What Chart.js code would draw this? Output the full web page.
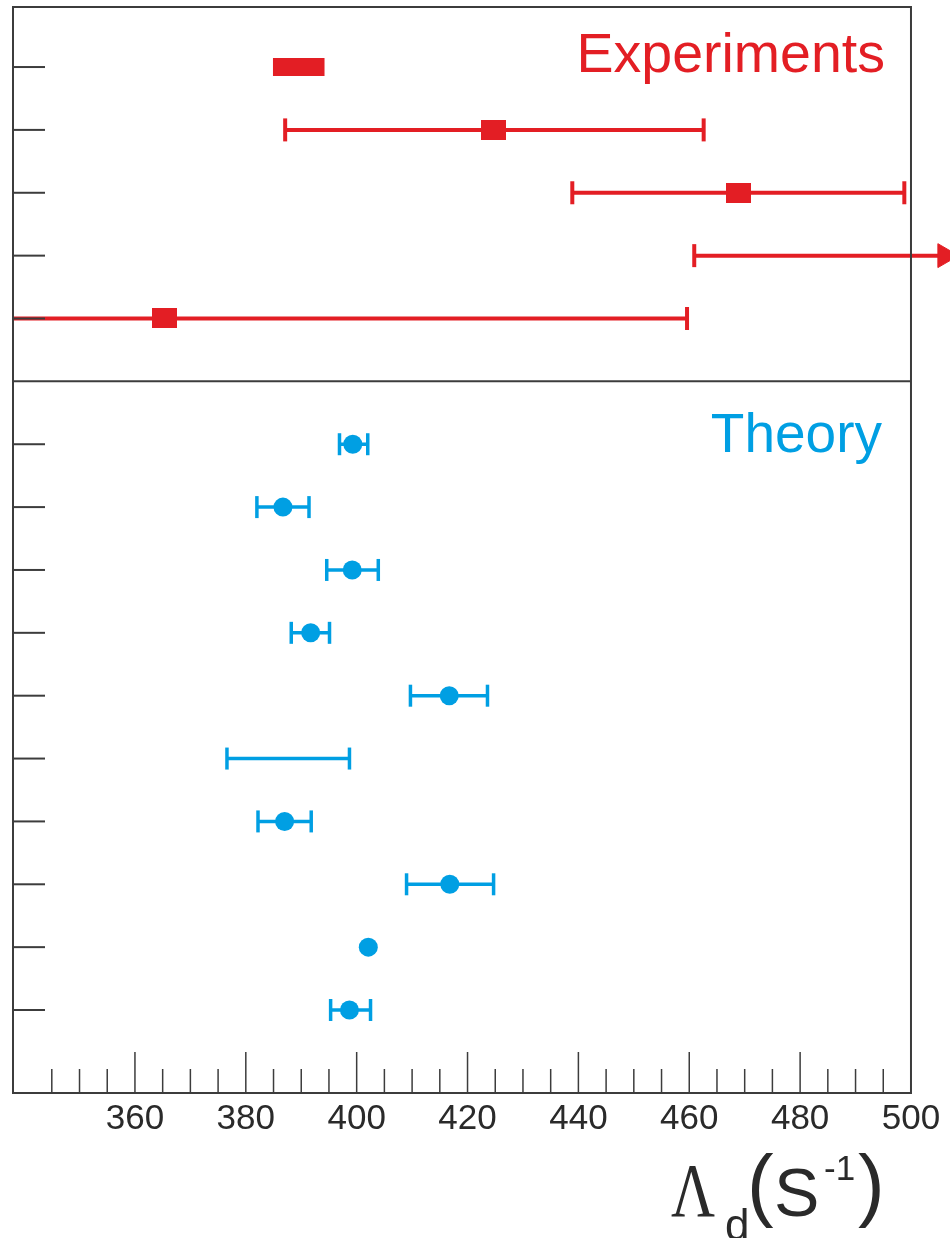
<!DOCTYPE html>
<html>
<head>
<meta charset="utf-8">
<script src="https://cdn.jsdelivr.net/npm/chart.js@4.4.1/dist/chart.umd.min.js"></script>
<style>
html, body { margin: 0; padding: 0; background: #fff; }
#wrap { width: 950px; height: 1238px; position: relative; }
</style>
</head>
<body>
<div id="wrap"><canvas id="chart" width="950" height="1238"></canvas></div>
<script>
// x axis (decay rate, s^-1); the scale runs a little past the frame so the arrow fits
const xMin = 338;
const xFrameMax = 500;
const xScaleMax = 507.04;
const xTicks = [360, 380, 400, 420, 440, 460, 480, 500];

// Experiments, rows from top
const expValue = [null, 424.7, 468.8, null, 365.3];
const expLow   = [384.9, 387.1, 438.9, 460.9, 271.0];
const expHigh  = [394.2, 462.6, 498.8, 506.1, 459.6];
const expKind  = ['band', 'bar', 'bar', 'limit', 'bar'];

// Theory, rows from top
const thValue = [399.3, 386.7, 399.2, 391.7, 416.7, null, 387.0, 416.8, 402.1, 398.7];
const thLow   = [396.9, 382.0, 394.6, 388.2, 409.7, 376.6, 382.2, 409.0, null, 395.3];
const thHigh  = [402.0, 391.4, 403.9, 395.1, 423.6, 398.7, 391.8, 424.7, null, 402.5];

const RED = '#E31E24';
const BLUE = '#009FE3';
const FRAME = '#3c3c3c';

// row index on the y scale: experiments first, then a gap, then theory
const dividerRow = expValue.length;
const thRow = i => dividerRow + 1 + i;
const allRows = expValue.map((v, i) => i).concat(thValue.map((v, i) => thRow(i)));

// rectangular marker for experiments (a bit wider than tall)
const rectMarker = document.createElement('canvas');
rectMarker.width = 25;
rectMarker.height = 20;
(function () {
    const c = rectMarker.getContext('2d');
    c.fillStyle = RED;
    c.fillRect(0, 0, 25, 20);
})();

const datasets = [];

expLow.forEach((lo, i) => {
    const pts = [{x: lo, y: i}, {x: expHigh[i], y: i}];
    const kind = expKind[i];
    if (kind === 'band') {
        datasets.push({
            data: pts, borderColor: RED, borderWidth: 18, borderCapStyle: 'butt',
            pointRadius: 0, order: 2
        });
    } else if (kind === 'limit') {
        // lower limit: cap on the left, arrow head past the frame
        datasets.push({
            data: pts, borderColor: RED, borderWidth: 4, borderCapStyle: 'butt',
            pointStyle: ['line', 'triangle'], pointRotation: 90,
            pointRadius: [11.5, 13.8], pointBorderWidth: [4, 1],
            pointBorderColor: RED, pointBackgroundColor: RED, order: 2
        });
    } else {
        datasets.push({
            data: pts, borderColor: RED, borderWidth: 4, borderCapStyle: 'butt',
            pointStyle: 'line', pointRotation: 90, pointRadius: 11.5, pointBorderWidth: 4,
            pointBorderColor: RED, order: 2
        });
    }
});

thLow.forEach((lo, i) => {
    if (lo == null) return;
    datasets.push({
        data: [{x: lo, y: thRow(i)}, {x: thHigh[i], y: thRow(i)}],
        borderColor: BLUE, borderWidth: 3.5, borderCapStyle: 'butt',
        pointStyle: 'line', pointRotation: 90, pointRadius: 11, pointBorderWidth: 3.5,
        pointBorderColor: BLUE, order: 2
    });
});

datasets.push({
    data: expValue.map((v, i) => v == null ? null : {x: v, y: i}).filter(p => p),
    showLine: false, pointStyle: rectMarker, pointRadius: 12, order: 0
});
datasets.push({
    data: thValue.map((v, i) => v == null ? null : {x: v, y: thRow(i)}).filter(p => p),
    showLine: false, pointStyle: 'circle', pointRadius: 9.5, pointBorderWidth: 0,
    pointBackgroundColor: BLUE, pointBorderColor: BLUE, order: 0
});

// frame, divider, inward ticks, panel names and axis title
const framePlugin = {
    id: 'frame',
    afterDatasetsDraw(chart) {
        const {ctx, chartArea: a, scales: {x, y}} = chart;
        const line = (x1, y1, x2, y2) => {
            ctx.beginPath();
            ctx.moveTo(x1, y1);
            ctx.lineTo(x2, y2);
            ctx.stroke();
        };
        const right = x.getPixelForValue(xFrameMax);
        ctx.save();
        ctx.strokeStyle = FRAME;
        ctx.lineWidth = 2;
        ctx.strokeRect(a.left, a.top, right - a.left, a.bottom - a.top);
        const yd = y.getPixelForValue(dividerRow);
        line(a.left, yd, right, yd);
        allRows.forEach(r => {
            const py = y.getPixelForValue(r);
            line(a.left, py, a.left + 32, py);
        });
        ctx.lineWidth = 1.5;
        for (let v = 345; v < xFrameMax; v += 5) {
            const px = x.getPixelForValue(v);
            const len = xTicks.includes(v) ? 41 : 24;
            line(px, a.bottom, px, a.bottom - len);
        }

        ctx.textBaseline = 'alphabetic';
        ctx.textAlign = 'right';
        ctx.font = '55.5px "Liberation Sans", Arial, sans-serif';
        ctx.fillStyle = RED;
        ctx.fillText('Experiments', right - 26, y.getPixelForValue(0) + 5);
        ctx.font = '55px "Liberation Sans", Arial, sans-serif';
        ctx.fillStyle = BLUE;
        ctx.fillText('Theory', right - 29, y.getPixelForValue(thRow(0)) + 8);

        // axis title: Λd(S-1)
        ctx.textAlign = 'left';
        ctx.fillStyle = '#2a2a2a';
        ctx.save();
        ctx.translate(671, 1216);
        ctx.scale(0.8, 1);
        ctx.font = '76px "Liberation Serif", "Times New Roman", serif';
        ctx.fillText('Λ', 0, 0);
        ctx.restore();
        ctx.font = '44px "Liberation Sans", Arial, sans-serif';
        ctx.fillText('d', 725, 1240);
        ctx.font = '80px "Liberation Sans", Arial, sans-serif';
        ctx.fillText('(', 747, 1211);
        ctx.font = '68px "Liberation Sans", Arial, sans-serif';
        ctx.fillText('S', 774, 1216);
        ctx.font = '35px "Liberation Sans", Arial, sans-serif';
        ctx.fillText('-1', 824, 1180);
        ctx.font = '80px "Liberation Sans", Arial, sans-serif';
        ctx.fillText(')', 858, 1211);
        ctx.restore();
    }
};

new Chart(document.getElementById('chart'), {
    type: 'line',
    data: {datasets: datasets},
    options: {
        responsive: false,
        animation: false,
        layout: {autoPadding: false, padding: {left: 13, right: 0, top: 7, bottom: 95}},
        plugins: {legend: {display: false}, tooltip: {enabled: false}},
        elements: {line: {tension: 0}},
        scales: {
            x: {
                type: 'linear',
                min: xMin,
                max: xScaleMax,
                afterBuildTicks: s => { s.ticks = xTicks.map(v => ({value: v})); },
                afterFit: s => { s.height = 50; },
                grid: {display: false, drawTicks: false},
                border: {display: false},
                ticks: {
                    padding: 5,
                    color: '#2a2a2a',
                    font: {family: '"Liberation Sans", Arial, sans-serif', size: 35},
                    maxRotation: 0,
                    autoSkip: false
                }
            },
            y: {
                type: 'linear',
                display: false,
                reverse: true,
                min: -0.955,
                max: 16.32
            }
        }
    },
    plugins: [framePlugin]
});
</script>
</body>
</html>
